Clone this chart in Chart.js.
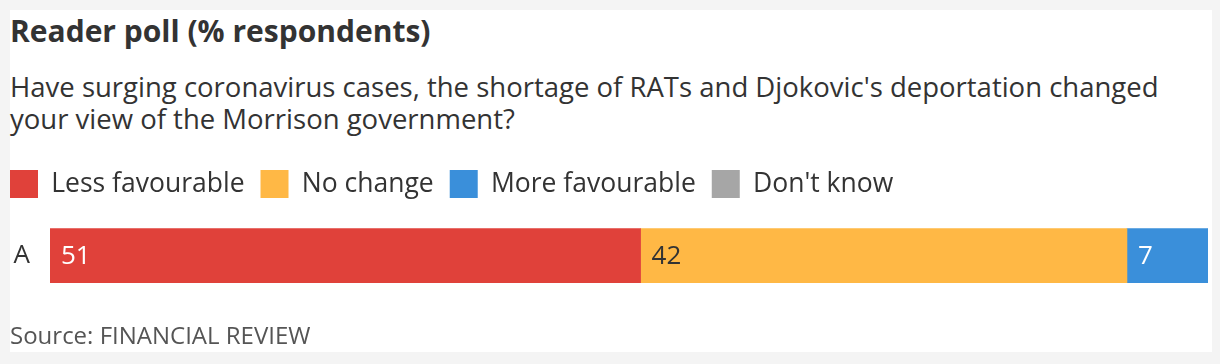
<!DOCTYPE html>
<html>
<head>
<meta charset="utf-8">
<script src="https://cdn.jsdelivr.net/npm/chart.js@4"></script>
<style>
  html, body { margin: 0; padding: 0; background: #f4f4f4; }
  body { width: 1220px; height: 364px; position: relative; overflow: hidden; font-family: "Open Sans", sans-serif; color: #333; }
  #panel { position: absolute; left: 10px; top: 10px; width: 1202px; height: 342px; background: #fff; }
  .txt { position: absolute; left: 10px; white-space: nowrap; }
  #title { top: 13px; font-size: 30px; font-weight: 700; line-height: 36px; }
  #subtitle { top: 71px; font-size: 27.5px; line-height: 32px; }
  #source { top: 321px; font-size: 24px; line-height: 28px; color: #555; }
  #wrap { position: absolute; left: -6px; top: 154px; width: 1214px; height: 177px; }
</style>
</head>
<body>
<div id="panel"></div>
<div class="txt" id="title">Reader poll (% respondents)</div>
<div class="txt" id="subtitle">Have surging coronavirus cases, the shortage of RATs and Djokovic's deportation changed<br>your view of the Morrison government?</div>
<div id="wrap"><canvas id="chart"></canvas></div>
<div class="txt" id="source">Source: FINANCIAL REVIEW</div>
<script>
const categories = ['A']
const series_names = ['Less favourable', 'No change', 'More favourable', "Don't know"]
const less_favourable = [51]
const no_change = [42]
const more_favourable = [7]
const dont_know = [0]
const series_colors = ['#e0413a', '#ffb845', '#3a8fda', '#a6a6a6']
const label_colors = ['#ffffff', '#333333', '#ffffff', '#ffffff']

const values = [less_favourable, no_change, more_favourable, dont_know]

// value labels inside each bar segment
const bar_labels = {
    id: 'bar_labels',
    afterDatasetsDraw(chart) {
        const c = chart.ctx
        c.save()
        c.font = '26px "Open Sans"'
        c.textBaseline = 'middle'
        c.textAlign = 'left'
        chart.data.datasets.forEach((ds, i) => {
            const meta = chart.getDatasetMeta(i)
            meta.data.forEach((bar, j) => {
                const v = ds.data[j]
                if (!v) return
                c.fillStyle = label_colors[i]
                c.fillText(String(v), bar.base + 11, bar.y + 1)
            })
        })
        c.restore()
    }
}

const ctx = document.querySelector('#chart')

const chart = new Chart(ctx, {
    type: 'bar',
    data: {
        labels: categories,
        datasets: series_names.map((name, i) => ({
            label: name,
            data: values[i],
            backgroundColor: series_colors[i],
            borderWidth: 0,
            barThickness: 54,
        })),
    },
    options: {
        indexAxis: 'y',
        responsive: true,
        maintainAspectRatio: false,
        animation: false,
        layout: { padding: 0 },
        plugins: {
            legend: {
                position: 'top',
                align: 'start',
                labels: {
                    boxWidth: 28,
                    boxHeight: 28,
                    padding: 16,
                    color: '#333',
                    font: { family: '"Open Sans"', size: 26.5 },
                },
            },
            tooltip: { enabled: false },
        },
        scales: {
            x: {
                stacked: true,
                min: 0,
                max: 100,
                display: false,
            },
            y: {
                stacked: true,
                grid: { display: false },
                border: { display: false },
                ticks: {
                    color: '#333',
                    padding: 12,
                    font: { family: '"Open Sans"', size: 26 },
                },
                afterFit(scale) { scale.width = 56 },
            },
        },
    },
    plugins: [bar_labels],
})
</script>
</body>
</html>
